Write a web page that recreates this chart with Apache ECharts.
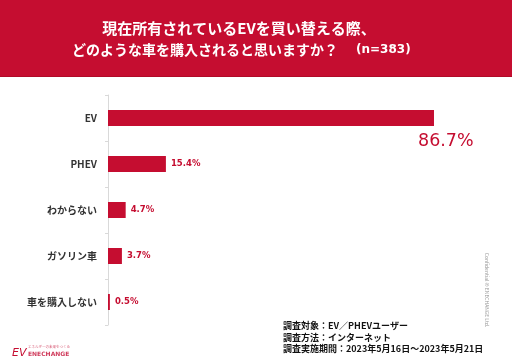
<!DOCTYPE html>
<html><head><meta charset="utf-8">
<script src="https://cdn.jsdelivr.net/npm/echarts@6/dist/echarts.min.js"></script>
<style>html,body{margin:0;padding:0;background:#fff}#c{width:512px;height:362px}</style>
</head><body><div id="c"></div>
<script>
var categories = ['EV', 'PHEV', 'わからない', 'ガソリン車', '車を購入しない'];
var values = [86.7, 15.4, 4.7, 3.7, 0.5];
var titleLine1 = '現在所有されているEVを買い替える際、';
var titleLine2 = 'どのような車を購入されると思いますか？';
var sampleText = '(n=383)';
var footLines = ['調査対象：EV／PHEVユーザー', '調査方法：インターネット', '調査実施期間：2023年5月16日～2023年5月21日'];

var RED = '#c50d30';
var FONT = '"Noto Sans CJK JP", "Noto Sans", sans-serif';
var LATIN = '"DejaVu Sans", sans-serif';
var chart = echarts.init(document.getElementById('c'), null, {renderer: 'canvas'});

var data = values.map(function (v, i) {
  var item = {value: v};
  if (i === 0) {
    item.label = {fontSize: 17.5, fontWeight: 'normal', offset: [-21, 23]};
  }
  return item;
});

chart.setOption({
  animation: false,
  backgroundColor: '#fff',
  grid: {left: 108, top: 95, width: 376, height: 230, containLabel: false},
  xAxis: {type: 'value', min: 0, max: 100, show: false},
  yAxis: {
    type: 'category', data: categories, inverse: true,
    axisLine: {lineStyle: {color: '#d9d9d9', width: 1}},
    axisTick: {show: true, length: 3, lineStyle: {color: '#d9d9d9'}},
    axisLabel: {margin: 11, fontSize: 10, color: '#333', fontFamily: FONT, fontWeight: 'bold'}
  },
  series: [{
    type: 'bar', data: data, barWidth: 16,
    itemStyle: {color: RED},
    label: {
      show: true, position: 'right', distance: 5,
      formatter: function (p) { return p.value.toFixed(1) + '%'; },
      color: RED, fontSize: 8.5, fontWeight: 'bold', fontFamily: LATIN
    }
  }],
  graphic: [
    {type: 'rect', shape: {x: 0, y: 0, width: 512, height: 77}, style: {fill: RED}, z: -1},
    {type: 'rect', shape: {x: 0, y: 76, width: 512, height: 1}, style: {fill: '#b00a28'}, z: -1},
    {type: 'text', x: 239, y: 28, style: {text: titleLine1, fill: '#fff', font: 'bold 15px ' + FONT, textAlign: 'center', textVerticalAlign: 'middle'}},
    {type: 'text', x: 72, y: 50, style: {text: titleLine2, fill: '#fff', font: 'bold 14px ' + FONT, textAlign: 'left', textVerticalAlign: 'middle'}},
    {type: 'text', x: 356, y: 50, style: {text: sampleText, fill: '#fff', font: 'bold 12px ' + LATIN, textAlign: 'left', textVerticalAlign: 'middle'}},
    {type: 'text', x: 283, y: 326, style: {text: footLines[0], fill: '#111', font: 'bold 9px ' + FONT, textAlign: 'left', textVerticalAlign: 'middle'}},
    {type: 'text', x: 283, y: 337.5, style: {text: footLines[1], fill: '#111', font: 'bold 9px ' + FONT, textAlign: 'left', textVerticalAlign: 'middle'}},
    {type: 'text', x: 283, y: 349, style: {text: footLines[2], fill: '#111', font: 'bold 9px ' + FONT, textAlign: 'left', textVerticalAlign: 'middle'}},
    {type: 'text', x: 487, y: 290, rotation: -Math.PI / 2, style: {text: 'Confidential © ENECHANGE Ltd.', fill: '#999', font: '5px ' + FONT, textAlign: 'center', textVerticalAlign: 'middle'}},
    {type: 'text', x: 12, y: 353, style: {text: 'EV', fill: RED, font: 'italic 11px ' + LATIN, textAlign: 'left', textVerticalAlign: 'middle'}},
    {type: 'text', x: 28, y: 347, style: {text: 'エネルギーの未来をつくる', fill: '#d8607a', font: '3.5px ' + FONT, textAlign: 'left', textVerticalAlign: 'middle'}},
    {type: 'text', x: 28, y: 354, style: {text: 'ENECHANGE', fill: '#d03c5c', font: 'bold 6px ' + LATIN, textAlign: 'left', textVerticalAlign: 'middle'}}
  ]
});
</script>
</body></html>
